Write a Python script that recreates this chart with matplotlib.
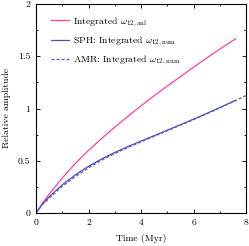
import matplotlib
matplotlib.use("Agg")
import matplotlib.pyplot as plt
from matplotlib.ticker import MultipleLocator, FuncFormatter

plt.rcParams['font.family'] = ['cmr10', 'DejaVu Serif']
plt.rcParams['mathtext.fontset'] = 'cm'
plt.rcParams['axes.unicode_minus'] = False
plt.rcParams['axes.formatter.use_mathtext'] = True

t_anl = [0, 0.25, 0.5, 1, 1.5, 2, 2.5, 3, 3.5, 4, 4.5, 5, 5.5, 6, 6.5, 7, 7.6]
v_anl = [0, 0.095, 0.18, 0.335, 0.475, 0.60, 0.713, 0.821, 0.925, 1.025, 1.122, 1.215, 1.305, 1.395, 1.4825, 1.5675, 1.6665]

t_sph = [0, 0.25, 0.5, 1, 1.5, 2, 2.5, 3, 3.5, 4, 4.5, 5, 5.5, 6, 6.5, 7, 7.6]
v_sph = [0, 0.088, 0.155, 0.27, 0.365, 0.447, 0.517, 0.5795, 0.6355, 0.6885, 0.7405, 0.7925, 0.845, 0.898, 0.953, 1.009, 1.078]

t_amr = [0, 0.25, 0.5, 1, 1.5, 2, 2.5, 3, 3.5, 4, 4.5, 5, 5.5, 6, 6.5, 7, 7.6, 8]
v_amr = [0, 0.08, 0.14, 0.255, 0.35, 0.432, 0.505, 0.569, 0.627, 0.681, 0.734, 0.787, 0.84, 0.893, 0.948, 1.005, 1.075, 1.123]

labels = [r'Integrated $\omega_{12,\mathrm{anl}}$',
          r'SPH: Integrated $\omega_{12,\mathrm{num}}$',
          r'AMR: Integrated $\omega_{12,\mathrm{num}}$']

fig = plt.figure(figsize=(2.49, 2.46), dpi=100)
ax = fig.add_axes([36/249, 1-213/246, 210/249, 209/246])

ax.plot(t_anl, v_anl, color='#ff40a8', lw=0.9, label=labels[0])
ax.plot(t_sph, v_sph, color='#5252b0', lw=0.9, label=labels[1])
ax.plot(t_amr, v_amr, color='#5a5ac8', lw=0.9, ls=(0, (2.5, 1.5)), label=labels[2])

ax.set_xlim(0, 8)
ax.set_ylim(0, 2)
ax.xaxis.set_major_locator(MultipleLocator(2))
ax.xaxis.set_minor_locator(MultipleLocator(1))
ax.yaxis.set_major_locator(MultipleLocator(0.5))
ax.yaxis.set_minor_locator(MultipleLocator(0.25))
ax.xaxis.set_major_formatter(FuncFormatter(lambda v, p: '%g' % v))
ax.yaxis.set_major_formatter(FuncFormatter(lambda v, p: '%g' % v))
ax.tick_params(which='both', direction='in', top=True, right=True, labelsize=7, pad=4)
ax.tick_params(which='major', length=3, width=0.6)
ax.tick_params(which='minor', length=1.5, width=0.6)
for s in ax.spines.values():
    s.set_linewidth(0.8)

ax.set_xlabel('Time (Myr)', fontsize=7, labelpad=5)
ax.set_ylabel('Relative amplitude', fontsize=7, labelpad=5)

ax.legend(loc='upper left', frameon=False, fontsize=7, handlelength=1.8,
          handletextpad=0.4, labelspacing=0.55, borderaxespad=0.3,
          bbox_to_anchor=(0.04, 0.98))

fig.savefig('out.png', dpi=100)
